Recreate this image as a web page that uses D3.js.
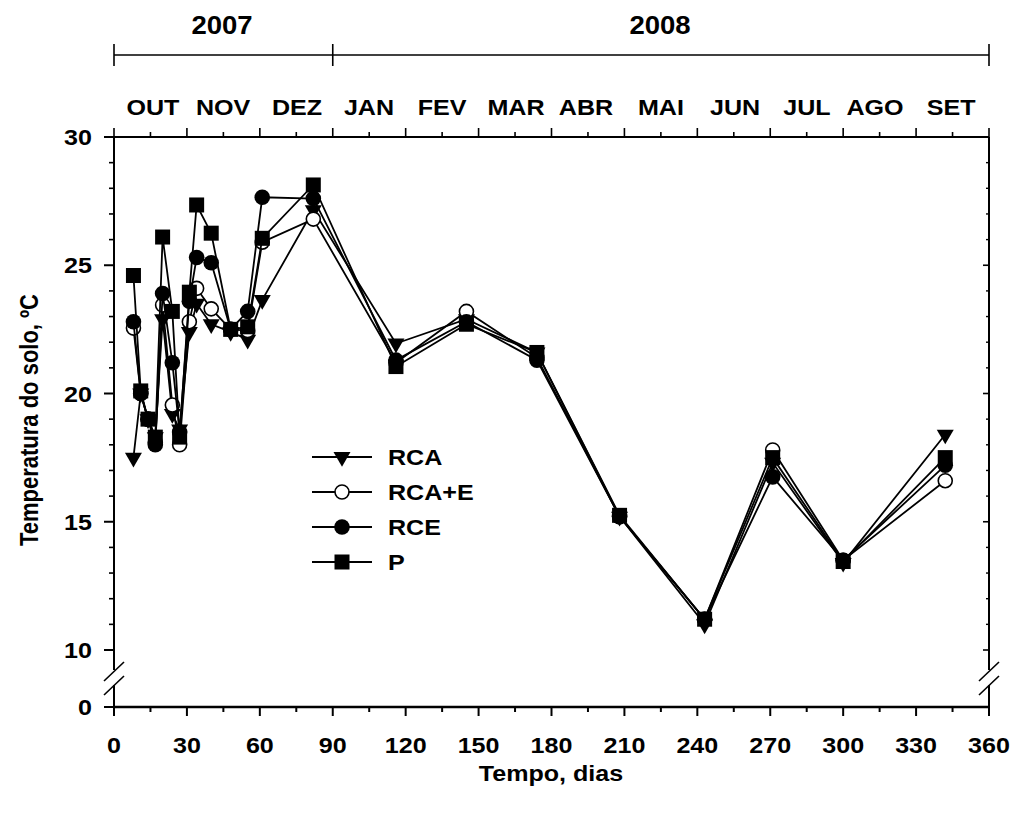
<!DOCTYPE html>
<html>
<head>
<meta charset="utf-8">
<script src="https://cdn.jsdelivr.net/npm/d3@7"></script>
<style>
  html, body { margin: 0; padding: 0; background: #fff; }
  svg { display: block; }
  text { font-family: 'Liberation Sans', Arial, sans-serif; font-weight: bold; fill: #000; }
</style>
</head>
<body>
<svg id="chart" width="1018" height="814"></svg>
<script>
// Sampling days (days since the start of the experiment)
const days = [8, 11, 14, 17, 20, 24, 27, 31, 34, 40, 48, 55, 61, 82, 116, 145, 174, 208, 243, 271, 300, 342];

// Soil temperature (ºC) for each treatment
const rca  = [17.5, 20.0, 19.0, 18.3, 22.9, 19.2, 18.6, 22.4, 23.5, 22.7, 22.4, 22.1, 23.65, 27.15, 21.95, 22.9, 21.6, 15.2, 11.0, 17.3, 13.4, 18.4];
const rcae = [22.55, 20.0, 19.0, 18.1, 23.45, 19.55, 18.0, 22.8, 24.1, 23.3, 22.5, 22.45, 25.9, 26.8, 21.2, 23.2, 21.4, 15.2, 11.2, 17.8, 13.5, 16.6];
const rce  = [22.8, 20.0, 19.0, 18.0, 23.9, 21.2, 18.5, 23.6, 25.3, 25.1, 22.5, 23.2, 27.65, 27.6, 21.3, 22.8, 21.3, 15.2, 11.2, 16.75, 13.5, 17.2];
const pp   = [24.6, 20.1, 19.0, 18.3, 26.1, 23.2, 18.3, 23.95, 27.35, 26.25, 22.5, 22.6, 26.05, 28.13, 21.05, 22.7, 21.6, 15.25, 11.2, 17.5, 13.45, 17.5];

const seriesNames = ["RCA", "RCA+E", "RCE", "P"];

// Axis tick values
const xTicks = [0, 30, 60, 90, 120, 150, 180, 210, 240, 270, 300, 330, 360];
const yTicks = [10, 15, 20, 25, 30];
const yBreakTicks = [0];

// Top annotation: month labels (placed at day positions) and year spans
const months = ["OUT", "NOV", "DEZ", "JAN", "FEV", "MAR", "ABR", "MAI", "JUN", "JUL", "AGO", "SET"];
const monthDays = [16, 44.9, 75.3, 104.9, 135, 165.4, 194.2, 225, 255.5, 285.1, 313.1, 344.4];
const years = ["2007", "2008"];
const yearBounds = [0, 90, 360];

const svg = d3.select("#chart");

const x = d3.scaleLinear().domain([0, 360]).range([114, 989]);
const y = d3.scaleLinear().domain([10, 30]).range([650, 137]);
const yLow = d3.scaleLinear().domain([0, 10]).range([707, 650]);   // segment below the break

const FS = 22, SX = 1.14;

function label(g, px, py, s, size, anchor, sx, rot) {
  return g.append("text")
    .attr("transform", `translate(${px},${py}) scale(${sx},1)` + (rot ? ` rotate(${rot})` : ""))
    .attr("text-anchor", anchor)
    .style("font-size", size + "px")
    .text(s);
}

const axes = svg.append("g").attr("stroke", "#000").attr("fill", "none");

// ---- bottom axis
const minorX = d3.range(15, 360, 30);
axes.append("line").attr("x1", x(0)).attr("x2", x(360)).attr("y1", 707).attr("y2", 707).attr("stroke-width", 2.4);
xTicks.forEach(t => axes.append("line").attr("x1", x(t)).attr("x2", x(t)).attr("y1", 707).attr("y2", 716).attr("stroke-width", 2));
minorX.forEach(t => axes.append("line").attr("x1", x(t)).attr("x2", x(t)).attr("y1", 707).attr("y2", 712).attr("stroke-width", 2));
xTicks.forEach(t => label(svg, x(t), 753, t, FS, "middle", SX));

// ---- top axis
axes.append("line").attr("x1", x(0)).attr("x2", x(360)).attr("y1", 137).attr("y2", 137).attr("stroke-width", 2);
xTicks.forEach(t => axes.append("line").attr("x1", x(t)).attr("x2", x(t)).attr("y1", 137).attr("y2", 128).attr("stroke-width", 1.6));
minorX.forEach(t => axes.append("line").attr("x1", x(t)).attr("x2", x(t)).attr("y1", 137).attr("y2", 132).attr("stroke-width", 1.6));
months.forEach((m, i) => label(svg, x(monthDays[i]), 115, m, FS, "middle", SX));

// ---- year bracket
axes.append("line").attr("x1", x(yearBounds[0])).attr("x2", x(yearBounds[2])).attr("y1", 55).attr("y2", 55).attr("stroke-width", 1.6);
yearBounds.forEach(b => axes.append("line").attr("x1", x(b)).attr("x2", x(b)).attr("y1", 44).attr("y2", 66).attr("stroke-width", 1.6));
label(svg, 222, 34, years[0], 25, "middle", 1.1);
label(svg, 660, 34, years[1], 25, "middle", 1.1);

// ---- left and right axes with break
const minorY = d3.range(11, 30).filter(v => v % 5 !== 0);
[[x(0), -1], [x(360), 1]].forEach(([ax, side]) => {
  axes.append("line").attr("x1", ax).attr("x2", ax).attr("y1", y(30)).attr("y2", 670).attr("stroke-width", 2);
  axes.append("line").attr("x1", ax).attr("x2", ax).attr("y1", 685).attr("y2", yLow(0)).attr("stroke-width", 2);
  // break marks
  axes.append("line").attr("x1", ax - 10).attr("x2", ax + 10).attr("y1", 681).attr("y2", 662).attr("stroke-width", 1.6);
  axes.append("line").attr("x1", ax - 10).attr("x2", ax + 10).attr("y1", 695).attr("y2", 676).attr("stroke-width", 1.6);
});
yTicks.forEach(t => axes.append("line").attr("x1", x(0) - 10).attr("x2", x(0)).attr("y1", y(t)).attr("y2", y(t)).attr("stroke-width", 2));
yBreakTicks.forEach(t => axes.append("line").attr("x1", x(0) - 10).attr("x2", x(0)).attr("y1", yLow(t)).attr("y2", yLow(t)).attr("stroke-width", 2));
minorY.forEach(t => axes.append("line").attr("x1", x(0) - 5).attr("x2", x(0)).attr("y1", y(t)).attr("y2", y(t)).attr("stroke-width", 1.6));
yTicks.forEach(t => axes.append("line").attr("x1", x(360)).attr("x2", x(360) - 6).attr("y1", y(t)).attr("y2", y(t)).attr("stroke-width", 1.6));
minorY.forEach(t => axes.append("line").attr("x1", x(360)).attr("x2", x(360) - 3).attr("y1", y(t)).attr("y2", y(t)).attr("stroke-width", 1.4));
yTicks.forEach(t => label(svg, 92, y(t) + 8, t, FS, "end", SX));
yBreakTicks.forEach(t => label(svg, 92, yLow(t) + 8, t, FS, "end", SX));

// ---- axis titles
label(svg, 551, 781, "Tempo, dias", FS, "middle", SX);
label(svg, 38, 420, "Temperatura do solo, ºC", FS, "middle", SX, -90);

// ---- series
const series = [
  { name: seriesNames[0], vals: rca,  sym: "tri" },
  { name: seriesNames[1], vals: rcae, sym: "open" },
  { name: seriesNames[2], vals: rce,  sym: "circle" },
  { name: seriesNames[3], vals: pp,   sym: "square" }
];

function marker(g, kind, px, py) {
  if (kind === "tri") {
    g.append("path").attr("d", d3.symbol(d3.symbolTriangle, 125)())
      .attr("transform", `translate(${px},${py}) rotate(180)`).attr("fill", "#000");
  } else if (kind === "open") {
    g.append("circle").attr("cx", px).attr("cy", py).attr("r", 7).attr("fill", "#fff").attr("stroke", "#000").attr("stroke-width", 1.6);
  } else if (kind === "circle") {
    g.append("circle").attr("cx", px).attr("cy", py).attr("r", 7.8).attr("fill", "#000");
  } else {
    g.append("rect").attr("x", px - 7.5).attr("y", py - 7.5).attr("width", 15).attr("height", 15).attr("fill", "#000");
  }
}

const line = d3.line().x(d => x(d[0])).y(d => y(d[1]));
const plot = svg.append("g");
series.forEach(s => {
  const g = plot.append("g");
  const pts = days.map((d, i) => [d, s.vals[i]]);
  g.append("path").attr("d", line(pts)).attr("fill", "none").attr("stroke", "#000").attr("stroke-width", 1.8);
  pts.forEach(p => marker(g, s.sym, x(p[0]), y(p[1])));
});

// ---- legend
const legY = [457, 492, 527, 562];
const leg = svg.append("g");
series.forEach((s, i) => {
  leg.append("line").attr("x1", 312).attr("x2", 372).attr("y1", legY[i]).attr("y2", legY[i]).attr("stroke", "#000").attr("stroke-width", 1.8);
  marker(leg, s.sym, 342, legY[i]);
  label(leg, 388, legY[i] + 8, s.name, FS, "start", SX);
});
</script>
</body>
</html>
